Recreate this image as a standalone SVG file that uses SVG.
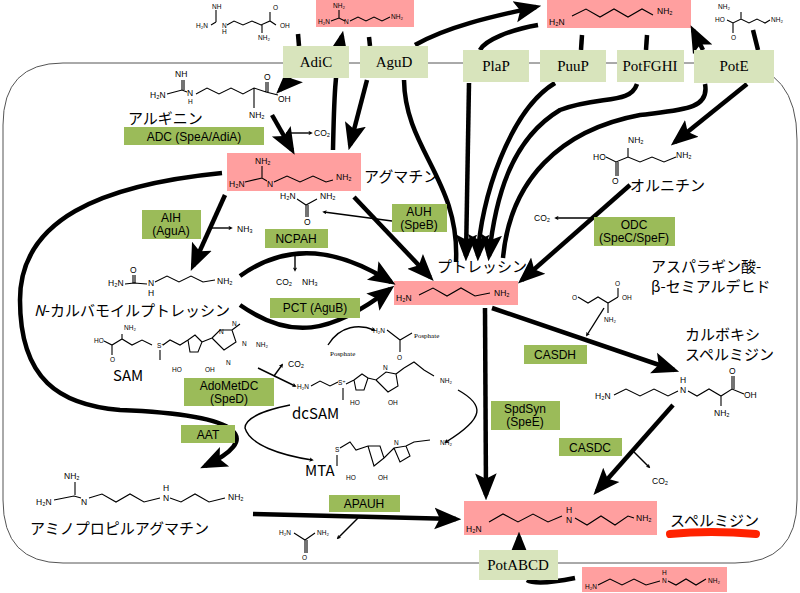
<svg xmlns="http://www.w3.org/2000/svg" width="800" height="593" viewBox="0 0 800 593">
<style>
.tr{fill:#d8e4bc}.trt{font-family:"Liberation Serif",serif;font-size:15px;text-anchor:middle}
.en{fill:#9bbb59}.ent{font-family:"Liberation Sans",sans-serif;font-size:12px;text-anchor:middle}
.pk{fill:#ff9f9f}
.jp{font-family:"Noto Sans CJK JP","Liberation Sans",sans-serif;font-size:15px}
.ch{fill:none;stroke:#000;stroke-width:1.1}
.ct{font-family:"Liberation Sans","DejaVu Sans",sans-serif;font-size:8.5px}
.cs{font-family:"Liberation Sans","DejaVu Sans",sans-serif;font-size:6.5px}
.th{fill:none;stroke:#000;stroke-width:4.5}
.tn{fill:none;stroke:#000;stroke-width:1.4}
</style>
<defs>
<marker id="a" viewBox="0 0 10 10" refX="6" refY="5" markerWidth="3.2" markerHeight="3.2" orient="auto"><path d="M0,0L10,5L0,10L3,5z"/></marker>
<marker id="b" viewBox="0 0 10 10" refX="8" refY="5" markerWidth="6" markerHeight="6" orient="auto"><path d="M0,1L10,5L0,9L2,5z"/></marker>
</defs>
<rect width="800" height="593" fill="#fff"/>
<path d="M63,63H735Q797,68 797,140V500Q797,563 735,563H63Q3,563 3,500V125Q3,63 63,63Z" fill="none" stroke="#555" stroke-width="1"/>

<g id="pink-boxes">
<rect class="pk" x="316" y="0" width="98" height="27"/>
<rect class="pk" x="547" y="0" width="144" height="28"/>
<rect class="pk" x="227" y="153" width="134" height="38"/>
<rect class="pk" x="394" y="281" width="124" height="24"/>
<rect class="pk" x="464" y="501" width="193" height="34"/>
<rect class="pk" x="582" y="567" width="145" height="25"/>
</g>

<g id="structures">
<text class="cs" x="212" y="9">NH</text><text class="cs" x="196" y="28">H₂N</text><text class="cs" x="222" y="34">H</text><text class="cs" x="222" y="28">N</text>
<path class="ch" d="M216,10V22M211,25L216,22M227,25L234,21L243,25L252,21L261,25L270,21L276,25M270,21V12M262,25V33"/><text class="cs" x="273" y="10">O</text><text class="cs" x="280" y="28">OH</text><text class="cs" x="258" y="40">NH₂</text>
<text class="cs" x="333" y="8">NH₂</text><text class="cs" x="318" y="24">H₂N</text><text class="cs" x="344" y="24">N</text><path class="ch" d="M339,10V18M331,21L339,18L345,21M350,21L358,17L366,21L374,17L382,21L390,17"/><text class="cs" x="391" y="19">NH₂</text>
<text class="ct" x="549" y="25" font-size="11">H₂N</text><path class="ch" d="M572,16L586,9L600,17L614,9L628,17L642,9L653,15"/><text class="ct" x="657" y="14" font-size="11">NH₂</text>
<text class="cs" x="718" y="9">NH₂</text><text class="cs" x="715" y="22">HO</text><text class="cs" x="731" y="40">O</text><path class="ch" d="M727,20L733,23L741,19L749,23L757,19L765,23L770,20M733,23V33M741,19V12"/><text class="cs" x="771" y="22">NH₂</text>
<text class="ct" x="175" y="77">NH</text><text class="ct" x="150" y="98">H₂N</text><text class="ct" x="187" y="96">N</text><text class="cs" x="188" y="104">H</text>
<path class="ch" d="M182,80V90M184,80V90M167,94L182,90L187,92M196,94L207,88L219,94L231,88L243,94L254,88L266,92L278,95M254,88V108M266,92V82M268,92V82"/><text class="ct" x="264" y="80">O</text><text class="ct" x="278" y="102">OH</text><text class="ct" x="249" y="118">NH₂</text>
<text class="ct" x="255" y="164">NH₂</text><text class="ct" x="229" y="187">H₂N</text><text class="ct" x="267" y="187">N</text>
<path class="ch" d="M262,166V178M245,182L262,178L267,181M274,182L287,176L300,182L313,176L326,182L333,180"/><text class="ct" x="336" y="180">NH₂</text>
<text class="ct" x="280" y="199">H₂N</text><text class="ct" x="320" y="199">NH₂</text><path class="ch" d="M297,199L306,205L317,199M306,205V217M308,205V217"/><text class="ct" x="304" y="225">O</text>
<text class="ct" x="130" y="273">O</text><text class="ct" x="108" y="286">H₂N</text><text class="ct" x="148" y="286">N</text><text class="ct" x="148" y="296">H</text>
<path class="ch" d="M133,275V283M135,275V283M125,284L134,283L147,284M155,282L167,276L179,282L191,276L203,282L215,280"/><text class="ct" x="217" y="284">NH₂</text>
<text class="ct" x="276" y="285">CO₂</text><text class="ct" x="302" y="285">NH₃</text>
<text class="ct" x="396" y="301" font-size="10">H₂N</text><path class="ch" d="M419,295L433,288L447,296L461,288L475,296L490,293"/><text class="ct" x="494" y="296" font-size="10">NH₂</text>
<text class="cs" x="373" y="333">H₂N</text><path class="ch" d="M387,330L400,340L412,333M400,340V352"/><text class="cs" x="397" y="360">O</text>
<text x="414" y="338" font-family="Liberation Serif,serif" font-size="7">Posphate</text>
<text x="330" y="356" font-family="Liberation Serif,serif" font-size="7">Posphate</text>
<text class="cs" x="124" y="330">NH₂</text><text class="cs" x="94" y="343">HO</text><text class="cs" x="110" y="362">O</text><text class="cs" x="157" y="348">S⁺</text>
<path class="ch" d="M104,341L112,345L122,339L132,345L142,340L152,345M160,350V360M163,345L170,340L180,345L188,340M112,345V355M122,339V334M188,340L195,335L202,342L198,352L190,352L188,340M202,342L212,338M212,338L220,330L232,330L236,342L224,350L212,338M232,330L240,324"/>
<text class="cs" x="172" y="372">HO</text><text class="cs" x="205" y="372">OH</text><text class="cs" x="219" y="334">N</text><text class="cs" x="232" y="326">N</text><text class="cs" x="242" y="346">N</text><text class="cs" x="226" y="365">N</text><text class="cs" x="256" y="347">NH₂</text>
<text class="cs" x="297" y="389">H₂N</text><path class="ch" d="M311,386L320,381L330,386L338,382M343,388V400M346,384L354,380M354,380L362,374L368,378L364,390L356,390L354,380M368,378L376,380L386,372L396,374L398,386L388,392L376,380M396,374L404,368"/>
<text class="cs" x="338" y="385">S⁺</text><text class="cs" x="350" y="405">HO</text><text class="cs" x="388" y="405">OH</text><text class="cs" x="383" y="370">N</text><text class="cs" x="440" y="383">NH₂</text>
<path class="ch" d="M404,368L414,362L424,370L434,376"/>
<text class="cs" x="335" y="452">S</text><path class="ch" d="M337,455V466M340,448L350,442L356,450L368,446L380,446L384,458L374,466L368,446M384,458L394,448L406,446L410,456L400,462L394,448M406,446L414,442L430,440"/><text class="cs" x="346" y="480">HO</text><text class="cs" x="378" y="480">OH</text><text class="cs" x="394" y="445">N</text><text class="cs" x="440" y="445">NH₂</text>
<text class="ct" x="64" y="479">NH₂</text><text class="ct" x="36" y="505">H₂N</text><text class="ct" x="81" y="505">N</text><text class="ct" x="163" y="491">H</text><text class="ct" x="163" y="501">N</text>
<path class="ch" d="M75,482V495M54,500L74,496L81,498M89,498L102,494L116,502L130,494L144,502L160,498M170,498L181,502L195,494L209,502L225,498"/><text class="ct" x="228" y="500">NH₂</text>
<text class="cs" x="279" y="535">H₂N</text><text class="cs" x="317" y="535">NH₂</text><path class="ch" d="M294,533L305,540L315,533M305,540V553M307,540V553"/><text class="cs" x="302" y="560">O</text>
<text class="ct" x="628" y="143">NH₂</text><text class="ct" x="593" y="160">HO</text><text class="ct" x="612" y="184">O</text>
<path class="ch" d="M606,157L616,162L628,157L640,162L652,157L664,162L676,157M616,162V176M618,162V176M628,157V148"/><text class="ct" x="676" y="158">NH₂</text>
<text class="cs" x="572" y="300">O</text><path class="ch" d="M578,297L588,303L598,297L608,303L618,297M608,303V313M618,297V288"/><text class="cs" x="615" y="286">O</text><text class="cs" x="622" y="300">OH</text><text class="cs" x="604" y="322">NH₂</text>
<text class="ct" x="595" y="399">H₂N</text><text class="ct" x="680" y="383">H</text><text class="ct" x="680" y="393">N</text>
<path class="ch" d="M614,395L626,389L640,396L654,389L668,396L678,391M688,391L697,396L709,389L721,396L732,389L744,394M721,396V406M732,389V376M734,389V376"/><text class="ct" x="729" y="374">O</text><text class="ct" x="744" y="398">OH</text><text class="ct" x="714" y="416">NH₂</text>
<text class="ct" x="466" y="532" font-size="10">H₂N</text><text class="ct" x="566" y="513" font-size="10">H</text><text class="ct" x="566" y="523" font-size="10">N</text>
<path class="ch" d="M489,522L503,514L518,522L533,514L548,522L562,516M575,518L587,525L601,516L615,525L628,516L634,518"/><text class="ct" x="636" y="521" font-size="10">NH₂</text>
<text class="cs" x="585" y="589">H₂N</text><text class="cs" x="662" y="575">H</text><text class="cs" x="662" y="583">N</text>
<path class="ch" d="M598,585L610,579L622,585L634,579L646,585L660,581M668,581L676,585L686,579L696,585L706,579"/><text class="cs" x="708" y="583">NH₂</text>
<text class="ct" x="314" y="136">CO₂</text><text class="ct" x="237" y="232">NH₃</text><text class="ct" x="288" y="367">CO₂</text><text class="ct" x="534" y="221">CO₂</text><text class="ct" x="652" y="484">CO₂</text>
</g>

<g id="connectors">
<path class="th" d="M298,34L299,46"/>
<path class="th" d="M290,80L280,90" marker-end="url(#b)"/>
<path class="th" d="M333,150C334,100 335,70 342,36" marker-end="url(#b)"/>
<path class="th" d="M369,37L370,46"/>
<path class="th" d="M367,80L350,145" marker-end="url(#b)"/>
<path class="th" d="M415,45C450,25 500,15 536,7" marker-end="url(#b)"/>
<path class="th" d="M404,80C405,150 460,180 456,262"/>
<path class="th" d="M538,25C510,30 485,40 480,50"/>
<path class="th" d="M469,83L466,256" marker-end="url(#b)"/>
<path class="th" d="M582,35L581,50"/>
<path class="th" d="M555,83C510,110 480,200 478,256" marker-end="url(#b)"/>
<path class="th" d="M647,35L646,50"/>
<path class="th" d="M637,84C630,105 600,95 560,110C510,140 495,200 489,256" marker-end="url(#b)"/>
<path class="th" d="M705,84C710,110 680,110 640,115C560,130 510,180 503,258"/>
<path class="th" d="M703,50L693,30" marker-end="url(#b)"/>
<path class="th" d="M753,30L758,50"/>
<path class="th" d="M747,84L675,142" marker-end="url(#b)"/>
<path class="th" d="M630,185L522,280" marker-end="url(#b)"/>
<path class="tn" d="M597,218L556,218" marker-end="url(#a)"/>
<path class="th" d="M272,115L292,150" marker-end="url(#b)"/>
<path class="tn" d="M286,133L311,133" marker-end="url(#a)"/>
<path class="th" d="M225,195L193,266" marker-end="url(#b)"/>
<path class="tn" d="M211,228L231,228" marker-end="url(#a)"/>
<path class="th" d="M354,197L430,277" marker-end="url(#b)"/>
<path class="tn" d="M392,221L324,212" marker-end="url(#a)"/>
<path class="th" d="M240,276C290,240 340,250 391,282" marker-end="url(#b)"/>
<path class="tn" d="M295,252V270" marker-end="url(#a)"/>
<path class="th" d="M240,305C290,340 330,335 390,289" marker-end="url(#b)"/>
<path class="tn" d="M328,345C340,325 360,324 374,330" marker-end="url(#a)"/>
<path class="th" d="M485,308L486,495" marker-end="url(#b)"/>
<path class="th" d="M492,308L674,370" marker-end="url(#b)"/>
<path class="tn" d="M604,308L587,335" marker-end="url(#a)"/>
<path class="th" d="M673,405L597,491" marker-end="url(#b)"/>
<path class="tn" d="M634,452L649,467" marker-end="url(#a)"/>
<path class="tn" d="M258,368L295,386" marker-end="url(#a)"/>
<path class="tn" d="M274,376L282,365" marker-end="url(#a)"/>
<path class="tn" d="M290,405C265,410 245,418 245,428C250,445 280,455 312,460" marker-end="url(#a)"/>
<path class="tn" d="M458,390C485,405 485,418 446,442" marker-end="url(#a)"/>
<path class="th" d="M222,173C100,185 20,220 20,300C20,380 60,405 120,410C250,415 260,440 205,466" marker-end="url(#b)"/>
<path class="th" d="M253,514L456,519" marker-end="url(#b)"/>
<path class="tn" d="M358,518L338,538" marker-end="url(#a)"/>
<path class="th" d="M519,549V537" marker-end="url(#b)"/>
<path class="th" d="M575,578C555,582 535,585 527,580"/>
</g>

<g id="transporters">
<g id="AdiC"><rect class="tr" x="283" y="46" width="66" height="32"/><text class="trt" x="316" y="67">AdiC</text></g>
<g id="AguD"><rect class="tr" x="360" y="46" width="68" height="32"/><text class="trt" x="394" y="67">AguD</text></g>
<g id="PlaP"><rect class="tr" x="463" y="50" width="66" height="32"/><text class="trt" x="496" y="71">PlaP</text></g>
<g id="PuuP"><rect class="tr" x="540" y="50" width="66" height="32"/><text class="trt" x="573" y="71">PuuP</text></g>
<g id="PotFGHI"><rect class="tr" x="617" y="50" width="67" height="32"/><text class="trt" x="650" y="71">PotFGHI</text></g>
<g id="PotE"><rect class="tr" x="694" y="50" width="80" height="33"/><text class="trt" x="734" y="71">PotE</text></g>
<g id="PotABCD"><rect class="tr" x="479" y="550" width="79" height="30"/><text class="trt" x="518" y="570">PotABCD</text></g>
</g>

<g id="enzymes">
<g id="ADC"><rect class="en" x="124" y="127" width="140" height="18"/><text class="ent" x="194" y="141">ADC (SpeA/AdiA)</text></g>
<g id="AIH"><rect class="en" x="142" y="210" width="59" height="29"/><text class="ent" x="171" y="222">AIH</text><text class="ent" x="171" y="235">(AguA)</text></g>
<g id="NCPAH"><rect class="en" x="265" y="229" width="63" height="19"/><text class="ent" x="296" y="243">NCPAH</text></g>
<g id="AUH"><rect class="en" x="392" y="204" width="55" height="28"/><text class="ent" x="419" y="216">AUH</text><text class="ent" x="419" y="229">(SpeB)</text></g>
<g id="ODC"><rect class="en" x="594" y="217" width="81" height="29"/><text class="ent" x="634" y="229">ODC</text><text class="ent" x="634" y="242">(SpeC/SpeF)</text></g>
<g id="PCT"><rect class="en" x="270" y="298" width="90" height="20"/><text class="ent" x="315" y="312">PCT (AguB)</text></g>
<g id="AdoMetDC"><rect class="en" x="184" y="378" width="90" height="28"/><text class="ent" x="229" y="390">AdoMetDC</text><text class="ent" x="229" y="403">(SpeD)</text></g>
<g id="AAT"><rect class="en" x="181" y="425" width="54" height="18"/><text class="ent" x="208" y="439">AAT</text></g>
<g id="APAUH"><rect class="en" x="329" y="495" width="71" height="17"/><text class="ent" x="364" y="508">APAUH</text></g>
<g id="CASDH"><rect class="en" x="524" y="345" width="63" height="19"/><text class="ent" x="555" y="359">CASDH</text></g>
<g id="SpdSyn"><rect class="en" x="491" y="401" width="69" height="29"/><text class="ent" x="525" y="413">SpdSyn</text><text class="ent" x="525" y="426">(SpeE)</text></g>
<g id="CASDC"><rect class="en" x="559" y="438" width="63" height="18"/><text class="ent" x="590" y="452">CASDC</text></g>
</g>

<g id="labels">
<text class="jp" x="128" y="124">アルギニン</text>
<text class="jp" x="364" y="182">アグマチン</text>
<text class="jp" x="34" y="316"><tspan font-style="italic">N</tspan>-カルバモイルプトレッシン</text>
<text class="jp" x="437" y="272">プトレッシン</text>
<text class="jp" x="630" y="191">オルニチン</text>
<text class="jp" x="651" y="272">アスパラギン酸-</text>
<text class="jp" x="651" y="292">β-セミアルデヒド</text>
<text class="jp" x="685" y="340">カルボキシ</text>
<text class="jp" x="685" y="360">スペルミジン</text>
<text class="jp" x="113" y="381" font-family="Liberation Sans,sans-serif">SAM</text>
<text class="jp" x="292" y="419" font-family="Liberation Sans,sans-serif">dcSAM</text>
<text class="jp" x="305" y="476" font-family="Liberation Sans,sans-serif">MTA</text>
<text class="jp" x="30" y="534">アミノプロピルアグマチン</text>
<path d="M670,534Q710,530 756,534" stroke="#ff2200" stroke-width="8" stroke-linecap="round" fill="none"/>
<text class="jp" x="670" y="526">スペルミジン</text>
</g>
</svg>
